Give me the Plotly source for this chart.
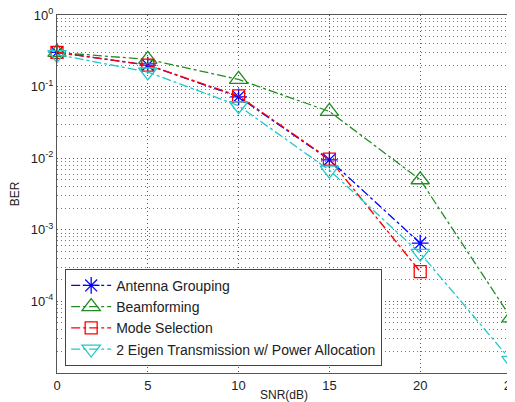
import plotly.graph_objects as go

snr = [0, 5, 10, 15, 20, 25]
ber_antenna = [0.30, 0.20, 0.072, 0.0095, 6.5e-4]
ber_beam = [0.30, 0.24, 0.126, 0.045, 0.005, 5.9e-5]
ber_mode = [0.30, 0.20, 0.074, 0.0097, 2.6e-4]
ber_eigen = [0.28, 0.16, 0.054, 0.0068, 4.7e-4, 1.5e-5]
names = ["Antenna Grouping", "Beamforming", "Mode Selection",
         "2 Eigen Transmission w/ Power Allocation"]
ytick_vals = [1e-4, 1e-3, 1e-2, 1e-1, 1e0]
ytick_text = ["10<sup>-4</sup>", "10<sup>-3</sup>", "10<sup>-2</sup>", "10<sup>-1</sup>", "10<sup>0</sup>"]

series = [
    (ber_antenna, "#0000ff", "asterisk-open", 14),
    (ber_beam, "#228b22", "triangle-up-open", 16),
    (ber_mode, "#ff0000", "square-open", 12),
    (ber_eigen, "#22c8c8", "triangle-down-open", 16),
]

fig = go.Figure()
for (vals, col, sym, sz), nm in zip(series, names):
    fig.add_trace(go.Scatter(
        x=snr[:len(vals)], y=vals, name=nm, mode="lines+markers",
        line=dict(color=col, width=1.3, dash="dashdot"),
        marker=dict(symbol=sym, size=sz, color=col, line=dict(color=col, width=1.3)),
        cliponaxis=False,
    ))

grid_dash = "1px,3px"
# page body has an 8px default margin, so the figure is 8px smaller in each direction
fig.update_layout(
    width=507, height=394,
    margin=dict(l=49, r=4, t=7, b=29),
    paper_bgcolor="white", plot_bgcolor="white",
    font=dict(family="Liberation Sans, Arial", size=13, color="#222"),
    showlegend=True,
    legend=dict(x=0.018, y=0.02, xanchor="left", yanchor="bottom",
                bgcolor="white", bordercolor="#444", borderwidth=1,
                font=dict(size=14), tracegroupgap=0, itemwidth=40),
)
fig.update_xaxes(
    range=[0, 25], tickvals=snr, ticks="", showline=True, linecolor="#555",
    mirror=True, showgrid=True, gridcolor="#555", griddash=grid_dash, gridwidth=1,
    zeroline=False, automargin=False, tickfont=dict(size=13), ticklabeloverflow="allow",
    title=dict(text="SNR(dB)", standoff=4, font=dict(size=12)),
)
fig.update_yaxes(
    type="log", range=[-5, 0], tickvals=ytick_vals, ticktext=ytick_text,
    ticks="", showline=True, linecolor="#555", mirror=True, automargin=False,
    showgrid=True, gridcolor="#555", griddash=grid_dash, gridwidth=1,
    minor=dict(showgrid=True, dtick="D1", gridcolor="#777", griddash=grid_dash, gridwidth=1),
    ticklabeloverflow="allow",
    title=dict(text="BER", standoff=10, font=dict(size=12)), tickfont=dict(size=13),
)
fig.write_html("out.html")
